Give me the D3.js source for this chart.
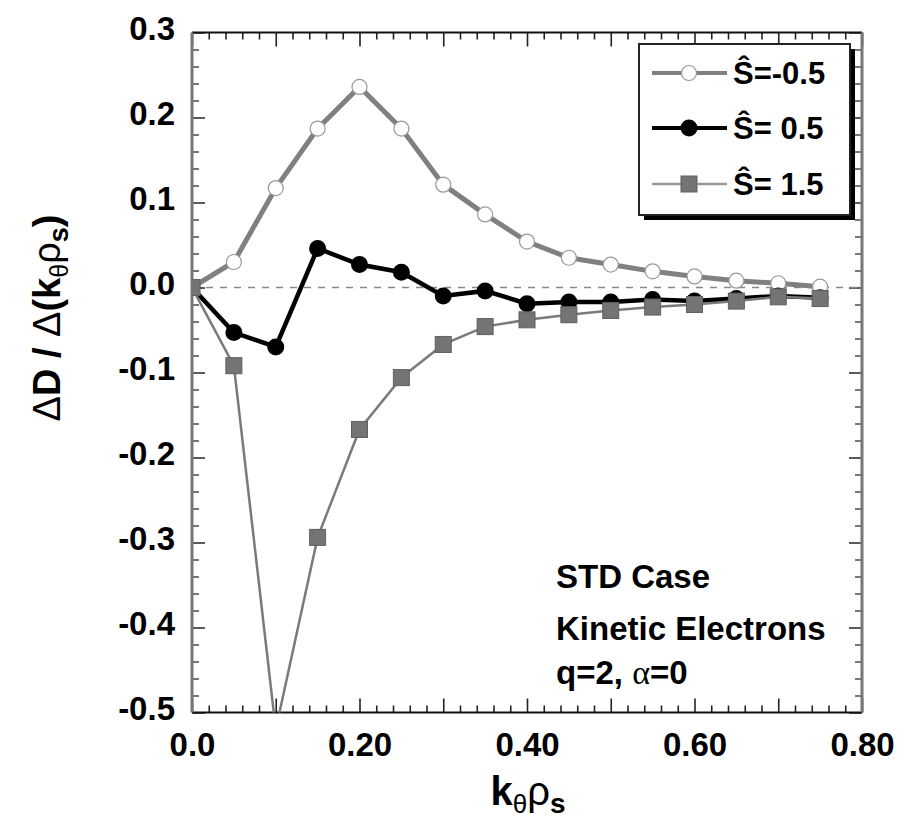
<!DOCTYPE html>
<html>
<head>
<meta charset="utf-8">
<script src="https://cdn.jsdelivr.net/npm/d3@7/dist/d3.min.js"></script>
<style>
  html, body { margin: 0; padding: 0; background: #fff; }
  svg { display: block; }
  .narrow { font-family: "Liberation Sans Narrow", "Liberation Sans", Arial, sans-serif; font-weight: bold; }
  .sans { font-family: "Liberation Sans", Arial, sans-serif; }
</style>
</head>
<body>
<svg id="chart" width="905" height="827"></svg>
<script>
// Growth-rate derivative vs. poloidal wavenumber for three magnetic shear values
const kThetaRho = [0, 0.05, 0.10, 0.15, 0.20, 0.25, 0.30, 0.35, 0.40, 0.45, 0.50, 0.55, 0.60, 0.65, 0.70, 0.75];
const shearNeg05 = [0, 0.030, 0.117, 0.187, 0.236, 0.187, 0.121, 0.086, 0.054, 0.035, 0.027, 0.019, 0.013, 0.008, 0.005, 0.001];
const shearPos05 = [0, -0.053, -0.070, 0.046, 0.027, 0.018, -0.010, -0.004, -0.019, -0.017, -0.017, -0.014, -0.016, -0.013, -0.010, -0.012];
const shearPos15 = [0, -0.092, -0.520, -0.294, -0.167, -0.106, -0.067, -0.046, -0.038, -0.032, -0.027, -0.023, -0.020, -0.016, -0.011, -0.013];
const legendLabels = ["Ŝ=-0.5", "Ŝ= 0.5", "Ŝ= 1.5"];
const xTickValues = [0, 0.2, 0.4, 0.6, 0.8];
const xTickLabels = ["0.0", "0.20", "0.40", "0.60", "0.80"];
const yTickValues = [0.3, 0.2, 0.1, 0.0, -0.1, -0.2, -0.3, -0.4, -0.5];
const yTickLabels = ["0.3", "0.2", "0.1", "0.0", "-0.1", "-0.2", "-0.3", "-0.4", "-0.5"];
const noteLines = ["STD Case", "Kinetic Electrons"];

const svg = d3.select("#chart");
const pLeft = 192, pRight = 862, pTop = 32.5, pBottom = 712.5;
const x = d3.scaleLinear().domain([0, 0.8]).range([pLeft, pRight]);
const y = d3.scaleLinear().domain([-0.5, 0.3]).range([pBottom, pTop]);

const isTenth = v => Math.abs(v * 10 - Math.round(v * 10)) < 1e-6;
const minorX = d3.range(0, 0.8001, 0.02).filter(v => !isTenth(v));
const majorX = d3.range(0, 0.8001, 0.1);
const minorY = d3.range(-0.5, 0.3001, 0.02).filter(v => !isTenth(v));
const majorY = d3.range(-0.5, 0.3001, 0.1);

svg.append("defs").append("clipPath").attr("id", "plotClip")
  .append("rect").attr("x", pLeft).attr("y", pTop).attr("width", pRight - pLeft).attr("height", pBottom - pTop);

// inward ticks on all four sides
function tickAxis(axisFn, scale, vals, size, tx, ty, color) {
  const g = svg.append("g").attr("transform", `translate(${tx},${ty})`)
    .call(axisFn(scale).tickValues(vals).tickSize(size).tickFormat(""));
  g.select(".domain").remove();
  g.selectAll("line").attr("stroke", color).attr("stroke-width", 1.6);
  return g;
}
tickAxis(d3.axisBottom, x, minorX, -7, 0, pBottom, "#222");
tickAxis(d3.axisBottom, x, majorX, -14, 0, pBottom, "#222");
tickAxis(d3.axisTop, x, minorX, -7, 0, pTop, "#222");
tickAxis(d3.axisTop, x, majorX, -14, 0, pTop, "#222");
tickAxis(d3.axisLeft, y, minorY, -7, pLeft, 0, "#555");
tickAxis(d3.axisLeft, y, majorY, -13, pLeft, 0, "#333");
tickAxis(d3.axisRight, y, minorY, -7, pRight, 0, "#555");
tickAxis(d3.axisRight, y, majorY, -13, pRight, 0, "#333");

// frame
svg.append("line").attr("x1", pLeft).attr("x2", pRight).attr("y1", pTop).attr("y2", pTop).attr("stroke", "#111").attr("stroke-width", 2.2);
svg.append("line").attr("x1", pLeft).attr("x2", pRight).attr("y1", pBottom).attr("y2", pBottom).attr("stroke", "#111").attr("stroke-width", 2.2);
svg.append("line").attr("x1", pLeft).attr("x2", pLeft).attr("y1", pTop).attr("y2", pBottom).attr("stroke", "#777").attr("stroke-width", 3);
svg.append("line").attr("x1", pRight).attr("x2", pRight).attr("y1", pTop).attr("y2", pBottom).attr("stroke", "#777").attr("stroke-width", 3);

// tick labels
const xLab = svg.append("g").attr("transform", `translate(0,${pBottom})`)
  .call(d3.axisBottom(x).tickValues(xTickValues).tickSize(0).tickPadding(20)
    .tickFormat((d, i) => xTickLabels[i]));
xLab.select(".domain").remove();
xLab.selectAll("text").attr("class", "narrow").attr("font-size", 33).attr("fill", "#000");

const yLab = svg.append("g").attr("transform", `translate(${pLeft},0)`)
  .call(d3.axisLeft(y).tickValues(yTickValues).tickSize(0).tickPadding(17)
    .tickFormat((d, i) => yTickLabels[i]));
yLab.select(".domain").remove();
yLab.selectAll("text").attr("class", "narrow").attr("font-size", 33).attr("fill", "#000").attr("dy", "0.22em");

// zero reference
svg.append("line").attr("x1", pLeft).attr("x2", pRight).attr("y1", y(0)).attr("y2", y(0))
  .attr("stroke", "#888").attr("stroke-width", 1.4).attr("stroke-dasharray", "7,7");

const plot = svg.append("g").attr("clip-path", "url(#plotClip)");
const line = d3.line().x((d, i) => x(kThetaRho[i])).y(d => y(d));

// Ŝ = -0.5 : open circles on a thick grey line
plot.append("path").datum(shearNeg05).attr("d", line).attr("fill", "none")
  .attr("stroke", "#808080").attr("stroke-width", 5);
plot.selectAll(".c1").data(shearNeg05).join("circle")
  .attr("cx", (d, i) => x(kThetaRho[i])).attr("cy", d => y(d)).attr("r", 7.5)
  .attr("fill", "#fff").attr("stroke", "#999").attr("stroke-width", 1.2);

// Ŝ = 0.5 : filled black circles
plot.append("path").datum(shearPos05).attr("d", line).attr("fill", "none")
  .attr("stroke", "#000").attr("stroke-width", 4.5);
plot.selectAll(".c2").data(shearPos05).join("circle")
  .attr("cx", (d, i) => x(kThetaRho[i])).attr("cy", d => y(d)).attr("r", 8.5)
  .attr("fill", "#000");

// Ŝ = 1.5 : grey squares on a thin line
plot.append("path").datum(shearPos15).attr("d", line).attr("fill", "none")
  .attr("stroke", "#7a7a7a").attr("stroke-width", 2.5);
plot.selectAll(".c3").data(shearPos15).join("rect")
  .attr("x", (d, i) => x(kThetaRho[i]) - 8).attr("y", d => y(d) - 8)
  .attr("width", 16).attr("height", 16)
  .attr("fill", "#747474").attr("stroke", "#606060").attr("stroke-width", 1);

// legend with drop shadow
const lg = svg.append("g");
lg.append("rect").attr("x", 644).attr("y", 49).attr("width", 211).attr("height", 171).attr("fill", "#000");
lg.append("rect").attr("x", 639).attr("y", 44).attr("width", 211).attr("height", 171)
  .attr("fill", "#fff").attr("stroke", "#222").attr("stroke-width", 2);
const rowsY = [73, 128, 184];
const legendStyle = [
  {stroke: "#808080", sw: 4, marker: "open"},
  {stroke: "#000", sw: 4, marker: "dot"},
  {stroke: "#999", sw: 2.5, marker: "square"}
];
legendLabels.forEach((lab, i) => {
  const st = legendStyle[i], cy = rowsY[i];
  lg.append("line").attr("x1", 652).attr("x2", 727).attr("y1", cy).attr("y2", cy)
    .attr("stroke", st.stroke).attr("stroke-width", st.sw);
  if (st.marker === "open") {
    lg.append("circle").attr("cx", 689).attr("cy", cy).attr("r", 7.5).attr("fill", "#fff").attr("stroke", "#999").attr("stroke-width", 1.2);
  } else if (st.marker === "dot") {
    lg.append("circle").attr("cx", 689).attr("cy", cy).attr("r", 8.5).attr("fill", "#000");
  } else {
    lg.append("rect").attr("x", 681).attr("y", cy - 8).attr("width", 16).attr("height", 16).attr("fill", "#747474").attr("stroke", "#606060");
  }
  lg.append("text").attr("class", "sans").attr("x", 733).attr("y", cy + 11)
    .attr("font-size", 31).attr("font-weight", "bold").style("white-space", "pre").text(lab);
});

// annotation
const note = svg.append("g").attr("class", "sans").attr("font-weight", "bold").attr("font-size", 33);
noteLines.forEach((t, i) => {
  note.append("text").attr("x", 556).attr("y", 588 + i * 52).text(t);
});
const q = note.append("text").attr("x", 556).attr("y", 684);
q.append("tspan").text("q=2, ");
q.append("tspan").attr("font-family", "Liberation Serif, Times New Roman, serif").attr("font-weight", "normal").attr("font-size", 34).text("α");
q.append("tspan").text("=0");

// axis titles
const xt = svg.append("text").attr("class", "sans").attr("x", 528).attr("y", 805).attr("text-anchor", "middle").attr("font-size", 40);
xt.append("tspan").attr("font-weight", "bold").text("k");
xt.append("tspan").attr("font-size", 26).attr("dy", 8).text("θ");
xt.append("tspan").attr("font-size", 40).attr("dy", -8).text("ρ");
xt.append("tspan").attr("font-size", 28).attr("font-weight", "bold").attr("dy", 8).text("s");

const yt = svg.append("text").attr("class", "sans").attr("transform", "translate(60,318) rotate(-90)")
  .attr("text-anchor", "middle").attr("font-size", 38);
yt.append("tspan").text("Δ");
yt.append("tspan").attr("font-weight", "bold").text("D / ");
yt.append("tspan").text("Δ");
yt.append("tspan").attr("font-weight", "bold").text("(k");
yt.append("tspan").attr("font-size", 25).attr("dy", 8).text("θ");
yt.append("tspan").attr("font-size", 38).attr("dy", -8).text("ρ");
yt.append("tspan").attr("font-size", 27).attr("font-weight", "bold").attr("dy", 8).text("s");
yt.append("tspan").attr("font-size", 38).attr("font-weight", "bold").attr("dy", -8).text(")");
</script>
</body>
</html>
